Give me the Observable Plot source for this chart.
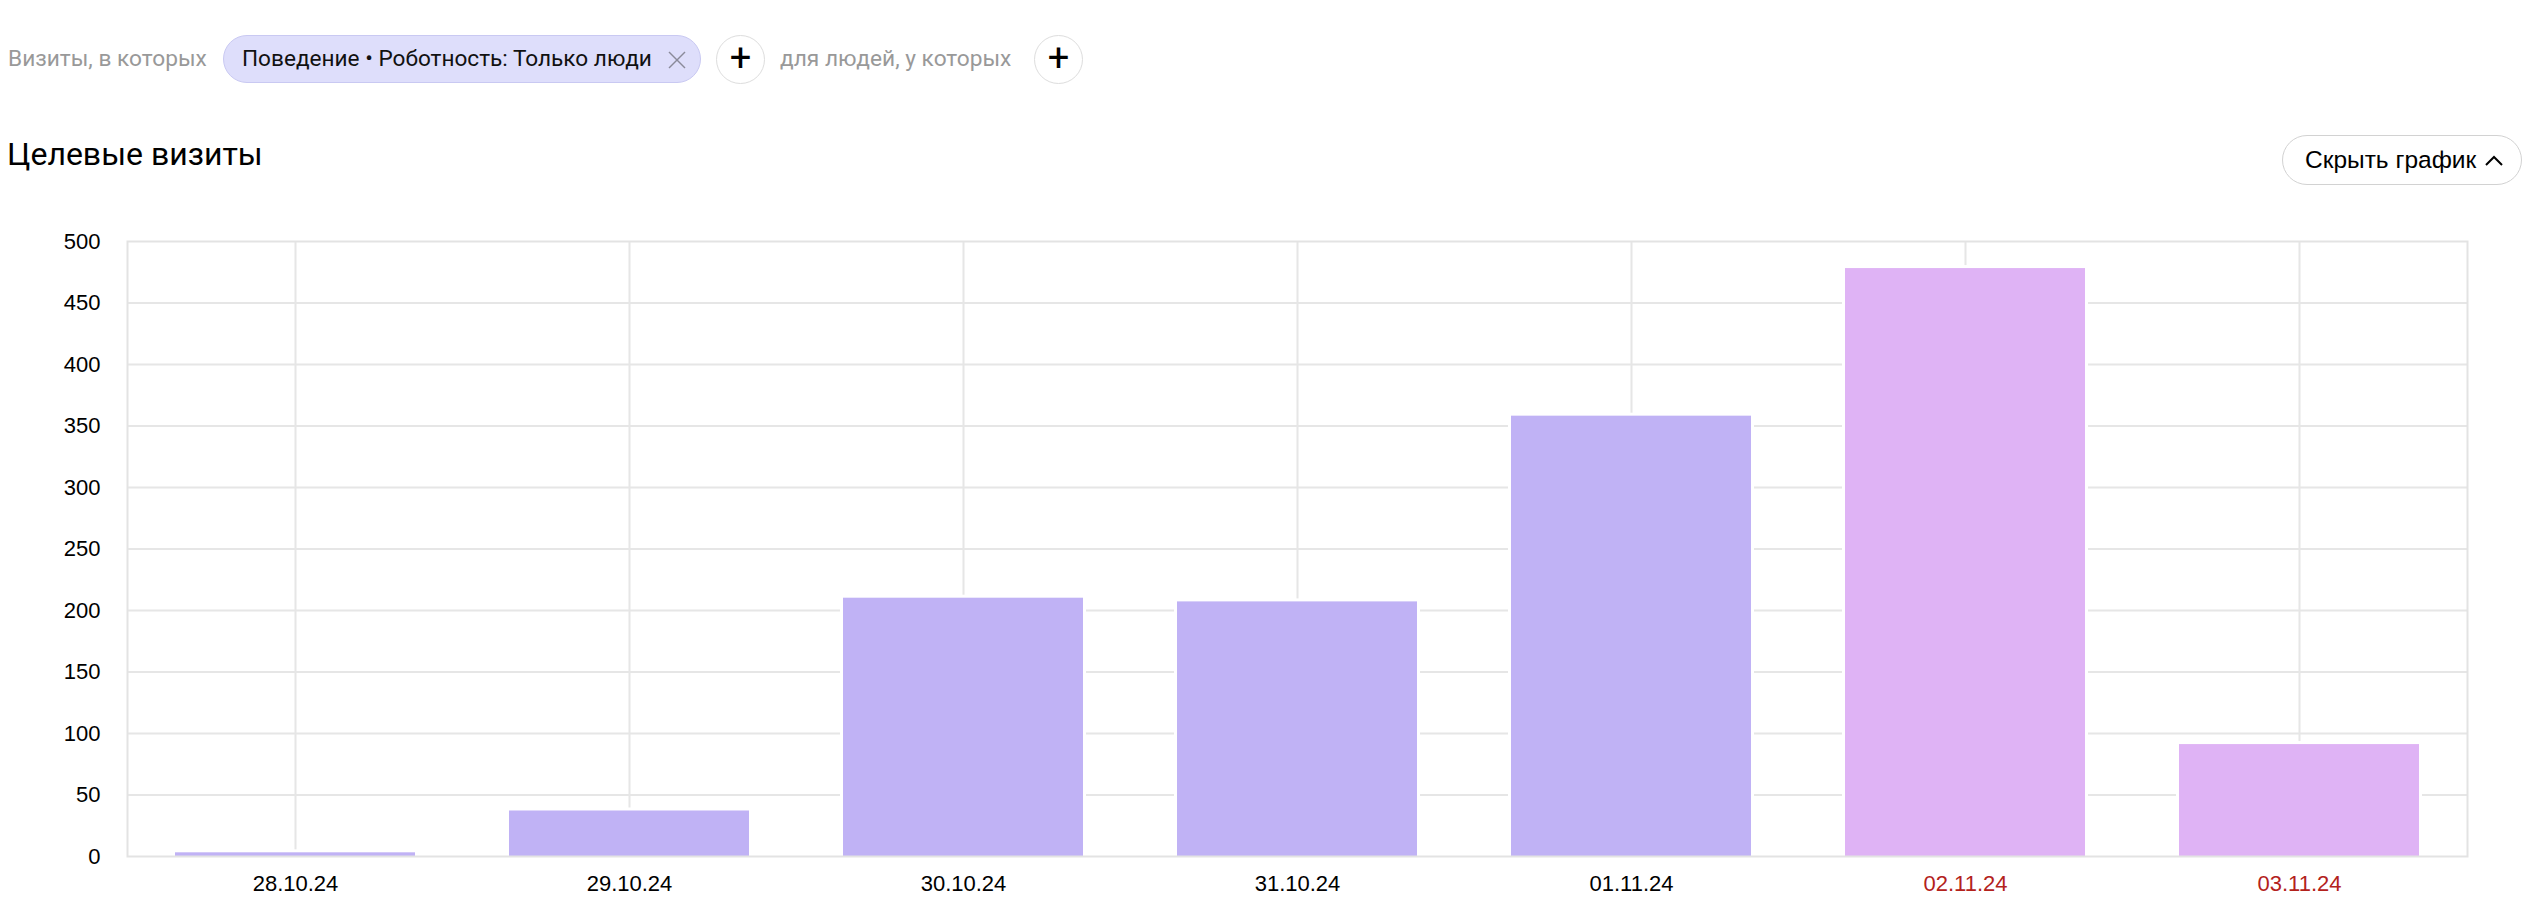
<!DOCTYPE html>
<html>
<head>
<meta charset="utf-8">
<script src="https://cdn.jsdelivr.net/npm/d3@7"></script>
<script src="https://cdn.jsdelivr.net/npm/@observablehq/plot@0.6"></script>
<style>
  html, body { margin: 0; padding: 0; background: #fff; }
  body { width: 2532px; height: 908px; overflow: hidden; position: relative;
         font-family: Roboto, "Noto Sans", "Liberation Sans", Arial, sans-serif; }
  .abs { position: absolute; }
  .gray { color: #999; font-size: 22.7px; line-height: 48px; white-space: nowrap; }
  .chip { left: 223px; top: 35px; width: 476px; height: 46px; border-radius: 24px;
          background: #dedefb; border: 1.5px solid #c9c9f2; box-sizing: content-box; }
  .chip span { position: absolute; left: 18px; top: 0; line-height: 46px; font-size: 22.6px; color: #111; white-space: nowrap; }
  .plus { width: 47px; height: 47px; border-radius: 50%; border: 1.5px solid #ddd; box-sizing: content-box;
          text-align: center; line-height: 45px; font-size: 38px; font-weight: 400; color: #000; }
  .title { left: 7px; top: 130px; font-size: 32px; line-height: 48px; color: #000; white-space: nowrap; }
  .btn { left: 2282px; top: 135px; width: 238px; height: 48px; border-radius: 25px; border: 1.5px solid #d2d2d2;
         box-sizing: content-box; font-family: "Liberation Sans", Arial, sans-serif; }
  .btn span { position: absolute; left: 22px; top: 0; line-height: 48px; font-size: 24.5px; color: #000; white-space: nowrap; }
  #chart { position: absolute; left: 0; top: 200px; }
</style>
</head>
<body>
<div class="abs gray" style="left:8px; top:35px;">Визиты, в которых</div>
<div class="abs chip"><span>Поведение • Роботность: Только люди</span>
  <svg class="abs" style="left:443px; top:14px;" width="20" height="20" viewBox="0 0 20 20">
    <line x1="2" y1="2" x2="18" y2="18" stroke="#8a8a9a" stroke-width="1.5"/>
    <line x1="18" y1="2" x2="2" y2="18" stroke="#8a8a9a" stroke-width="1.5"/>
  </svg>
</div>
<div class="abs plus" style="left:716px; top:35px;">+</div>
<div class="abs gray" style="left:780px; top:35px;">для людей, у которых</div>
<div class="abs plus" style="left:1034px; top:35px;">+</div>
<div class="abs title">Целевые визиты</div>
<div class="abs btn"><span>Скрыть график</span>
  <svg class="abs" style="left:201px; top:19px;" width="20" height="12" viewBox="0 0 20 12">
    <polyline points="2,10 10,2 18,10" fill="none" stroke="#000" stroke-width="2"/>
  </svg>
</div>
<div id="chart"></div>
<script>
const dates = ["28.10.24", "29.10.24", "30.10.24", "31.10.24", "01.11.24", "02.11.24", "03.11.24"];
const visits = [3, 37, 210, 207, 358, 478, 91];
const weekendDates = ["02.11.24", "03.11.24"];
const yTicks = [0, 50, 100, 150, 200, 250, 300, 350, 400, 450, 500];

const weekdayColor = "#c0b2f5";
const weekendColor = "#dfb3f5";
const weekendLabel = "#b3221c";

const data = dates.map((d, i) => ({ date: d, value: visits[i], weekend: weekendDates.includes(d) }));

const chart = Plot.plot({
  width: 2532,
  height: 708,
  marginLeft: 127,
  marginRight: 65,
  marginTop: 41,
  marginBottom: 52,
  style: { fontFamily: '"Liberation Sans", Arial, sans-serif', fontSize: "22px", color: "#000", background: "transparent", overflow: "visible" },
  x: { type: "band", domain: dates, paddingInner: 0.282, paddingOuter: 0.141, label: null },
  y: { domain: [0, 500], ticks: yTicks, label: null },
  marks: [
    Plot.gridY(yTicks.filter(t => t > 0 && t < 500), { stroke: "#e6e6e6", strokeOpacity: 1, strokeWidth: 2 }),
    Plot.gridX(dates, { stroke: "#e6e6e6", strokeOpacity: 1, strokeWidth: 2 }),
    Plot.barY(data.filter(d => !d.weekend), { x: "date", y: "value", fill: weekdayColor, stroke: "#fff", strokeWidth: 6, paintOrder: "stroke" }),
    Plot.barY(data.filter(d => d.weekend), { x: "date", y: "value", fill: weekendColor, stroke: "#fff", strokeWidth: 6, paintOrder: "stroke" }),
    Plot.frame({ stroke: "#e3e3e3", strokeWidth: 2 }),
    Plot.axisY({ ticks: yTicks, tickSize: 0, tickPadding: 27, fontSize: 22 }),
    Plot.axisX({ tickSize: 0, tickPadding: 19, fontSize: 22, fill: d => weekendDates.includes(d) ? weekendLabel : "#000" })
  ]
});
document.getElementById("chart").appendChild(chart);
</script>
</body>
</html>
